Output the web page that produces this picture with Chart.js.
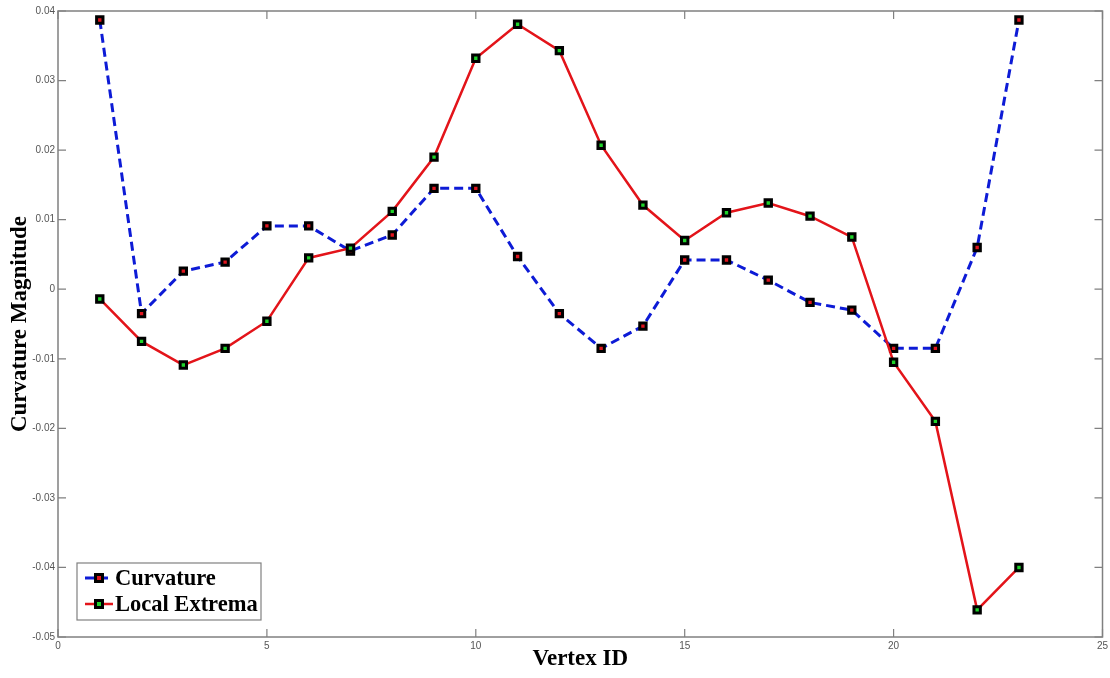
<!DOCTYPE html>
<html>
<head>
<meta charset="utf-8">
<script src="https://cdn.jsdelivr.net/npm/chart.js@4.4.0/dist/chart.umd.min.js"></script>
<style>
  html, body { margin: 0; padding: 0; background: #fff; }
  #wrap { width: 1110px; height: 678px; }
</style>
</head>
<body>
<div id="wrap"><canvas id="chartCurvature"></canvas></div>
<script>
const vertexIds = [1, 2, 3, 4, 5, 6, 7, 8, 9, 10, 11, 12, 13, 14, 15, 16, 17, 18, 19, 20, 21, 22, 23];
const curvature = [0.0387, -0.0035, 0.0026, 0.0039, 0.0091, 0.0091, 0.0055, 0.0078, 0.0145, 0.0145,
  0.0047, -0.0035, -0.0085, -0.0053, 0.0042, 0.0042, 0.0013, -0.0019, -0.0030, -0.0085,
  -0.0085, 0.0060, 0.0387];
const localExtrema = [-0.0014, -0.0075, -0.0109, -0.0085, -0.0046, 0.0045, 0.0059, 0.0112, 0.0190, 0.0332,
  0.0381, 0.0343, 0.0207, 0.0121, 0.0070, 0.0110, 0.0124, 0.0105, 0.0075, -0.0105,
  -0.0190, -0.0461, -0.0400];
const seriesLabels = ['Curvature', 'Local Extrema'];

const axisGrey = '#808080';
const serif = "'Liberation Serif', 'DejaVu Serif', serif";
const sans = "'Liberation Sans', Arial, sans-serif";

function toPoints(ys) {
  return vertexIds.map((x, i) => ({ x: x, y: ys[i] }));
}

// box round the plot with inward ticks on all four sides (MATLAB look)
const boxPlugin = {
  id: 'boxTicks',
  afterDatasetsDraw(chart) {
    const { ctx, chartArea: a, scales } = chart;
    ctx.save();
    ctx.strokeStyle = axisGrey;
    ctx.lineWidth = 1.5;
    ctx.strokeRect(a.left, a.top, a.right - a.left, a.bottom - a.top);
    ctx.lineWidth = 1.2;
    const len = 8;
    ctx.beginPath();
    scales.x.ticks.forEach(t => {
      const px = scales.x.getPixelForValue(t.value);
      ctx.moveTo(px, a.bottom); ctx.lineTo(px, a.bottom - len);
      ctx.moveTo(px, a.top); ctx.lineTo(px, a.top + len);
    });
    scales.y.ticks.forEach(t => {
      const py = scales.y.getPixelForValue(t.value);
      ctx.moveTo(a.left, py); ctx.lineTo(a.left + len, py);
      ctx.moveTo(a.right, py); ctx.lineTo(a.right - len, py);
    });
    ctx.stroke();
    ctx.restore();
  }
};

// legend drawn inside the plot, lower left
const legendPlugin = {
  id: 'insideLegend',
  afterDraw(chart) {
    const { ctx, chartArea: a } = chart;
    const bx = a.left + 19, by = a.bottom - 74, bw = 184, bh = 57;
    ctx.save();
    ctx.fillStyle = '#fff';
    ctx.fillRect(bx, by, bw, bh);
    ctx.strokeStyle = axisGrey;
    ctx.lineWidth = 1.2;
    ctx.strokeRect(bx, by, bw, bh);
    chart.data.datasets.forEach((ds, i) => {
      const cy = by + 15 + i * 26;
      ctx.strokeStyle = ds.borderColor;
      ctx.lineWidth = ds.borderWidth;
      ctx.setLineDash(ds.borderDash || []);
      ctx.beginPath();
      ctx.moveTo(bx + 8, cy); ctx.lineTo(bx + 36, cy);
      ctx.stroke();
      ctx.setLineDash([]);
      ctx.fillStyle = '#000';
      ctx.fillRect(bx + 17, cy - 5, 10, 10);
      ctx.fillStyle = ds.pointBackgroundColor;
      ctx.fillRect(bx + 20, cy - 2, 4, 4);
      ctx.fillStyle = '#000';
      ctx.font = "bold 22.5px " + serif;
      ctx.textBaseline = 'middle';
      ctx.fillText(ds.label, bx + 38, cy + 1);
    });
    ctx.restore();
  }
};

new Chart(document.getElementById('chartCurvature'), {
  type: 'line',
  data: {
    datasets: [
      {
        label: seriesLabels[0],
        data: toPoints(curvature),
        borderColor: '#0d1bd6',
        borderWidth: 3,
        borderDash: [9, 5],
        pointStyle: 'rect',
        pointRadius: 4.5,
        pointBorderWidth: 3,
        pointBorderColor: '#000',
        pointBackgroundColor: '#e0141e',
        tension: 0,
        order: 1
      },
      {
        label: seriesLabels[1],
        data: toPoints(localExtrema),
        borderColor: '#e3141a',
        borderWidth: 2.5,
        pointStyle: 'rect',
        pointRadius: 4.5,
        pointBorderWidth: 3,
        pointBorderColor: '#000',
        pointBackgroundColor: '#1fd42a',
        tension: 0,
        order: 0
      }
    ]
  },
  options: {
    responsive: true,
    maintainAspectRatio: false,
    animation: false,
    layout: { padding: { left: 0, right: 2, top: 11, bottom: 0 } },
    plugins: {
      legend: { display: false },
      tooltip: { enabled: false }
    },
    scales: {
      x: {
        type: 'linear',
        min: 0,
        max: 25,
        ticks: {
          stepSize: 5,
          color: '#555',
          font: { family: sans, size: 10 },
          padding: 3,
          maxRotation: 0
        },
        grid: { display: false, drawTicks: false },
        border: { display: false },
        title: {
          display: true,
          text: 'Vertex ID',
          color: '#000',
          font: { family: serif, size: 23, weight: 'bold' },
          padding: { top: 0, bottom: 5 }
        },
        afterFit(scale) {
          scale.height = 41;
          scale.paddingLeft = 0;
          scale.paddingRight = 0;
        }
      },
      y: {
        min: -0.05,
        max: 0.04,
        ticks: {
          stepSize: 0.01,
          color: '#555',
          font: { family: sans, size: 10 },
          padding: 3,
          callback: (v) => {
            const r = Math.round(v * 100) / 100;
            return r === 0 ? '0' : r.toFixed(2);
          }
        },
        grid: { display: false, drawTicks: false },
        border: { display: false },
        title: {
          display: true,
          text: 'Curvature Magnitude',
          color: '#000',
          font: { family: serif, size: 23, weight: 'bold' },
          padding: { top: 6, bottom: 0 }
        },
        afterFit(scale) {
          scale.width = 58;
          scale.paddingTop = 0;
          scale.paddingBottom = 0;
        }
      }
    }
  },
  plugins: [boxPlugin, legendPlugin]
});
</script>
</body>
</html>
